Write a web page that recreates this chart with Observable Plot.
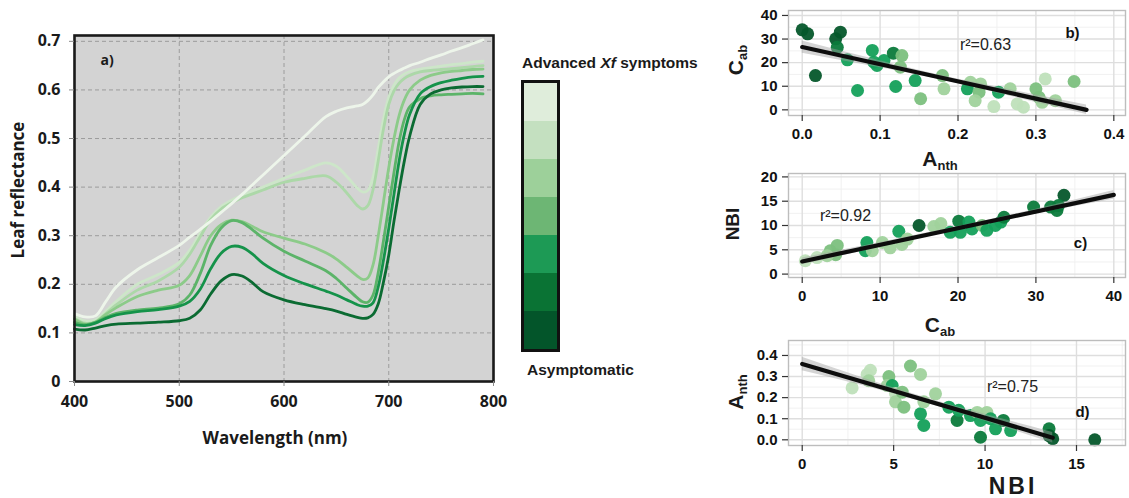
<!DOCTYPE html>
<html>
<head>
<meta charset="utf-8">
<script src="https://cdn.jsdelivr.net/npm/d3@7"></script>
<script src="https://cdn.jsdelivr.net/npm/@observablehq/plot@0.6"></script>
<style>
  body { margin: 0; background: #fff; }
  #fig { position: relative; width: 1129px; height: 498px; overflow: hidden; background: #fff; }
  #fig svg { position: absolute; }
  .t { position: absolute; white-space: nowrap; color: #1a1a1a; line-height: 1; }
  .t sub { font-size: 0.62em; vertical-align: -0.32em; line-height: 0; }
</style>
</head>
<body>
<div id="fig"></div>
<script>
// ---- Panel a: leaf reflectance spectra, one line per symptom level ----
// level 1 = advanced Xf symptoms ... level 7 = asymptomatic
const wavelength = [400,410,420,430,440,460,480,500,510,520,530,540,550,560,570,580,600,620,640,650,660,670,675,680,685,690,695,700,705,710,715,720,730,740,750,760,770,780,790];
const refl1 = [0.140,0.133,0.135,0.165,0.195,0.230,0.255,0.280,0.297,0.313,0.330,0.348,0.366,0.385,0.405,0.425,0.465,0.505,0.545,0.556,0.563,0.567,0.570,0.578,0.590,0.605,0.617,0.627,0.634,0.640,0.645,0.650,0.657,0.665,0.672,0.680,0.687,0.695,0.703];
const refl2 = [0.135,0.125,0.127,0.145,0.165,0.200,0.220,0.245,0.270,0.305,0.338,0.360,0.373,0.383,0.392,0.400,0.418,0.435,0.450,0.443,0.422,0.398,0.390,0.393,0.420,0.480,0.540,0.585,0.610,0.625,0.633,0.638,0.643,0.646,0.649,0.652,0.654,0.657,0.659];
const refl3 = [0.130,0.120,0.123,0.140,0.158,0.188,0.207,0.235,0.262,0.298,0.333,0.355,0.368,0.378,0.386,0.394,0.410,0.418,0.423,0.410,0.388,0.362,0.355,0.362,0.395,0.455,0.520,0.570,0.598,0.614,0.624,0.630,0.637,0.640,0.642,0.644,0.646,0.648,0.650];
const refl4 = [0.128,0.118,0.122,0.138,0.152,0.175,0.188,0.198,0.218,0.258,0.300,0.323,0.332,0.329,0.319,0.308,0.295,0.283,0.265,0.252,0.235,0.217,0.210,0.213,0.240,0.300,0.370,0.440,0.500,0.548,0.580,0.600,0.620,0.630,0.635,0.638,0.640,0.642,0.643];
const refl5 = [0.122,0.117,0.122,0.132,0.140,0.147,0.151,0.160,0.178,0.222,0.280,0.316,0.331,0.327,0.312,0.295,0.268,0.248,0.228,0.212,0.192,0.172,0.164,0.163,0.178,0.225,0.290,0.360,0.430,0.495,0.540,0.565,0.582,0.588,0.590,0.591,0.592,0.593,0.592];
const refl6 = [0.117,0.115,0.120,0.130,0.137,0.144,0.148,0.155,0.165,0.190,0.232,0.264,0.278,0.276,0.262,0.243,0.218,0.201,0.186,0.178,0.168,0.158,0.155,0.155,0.162,0.195,0.250,0.315,0.385,0.455,0.510,0.550,0.592,0.607,0.615,0.620,0.624,0.627,0.628];
const refl7 = [0.108,0.106,0.110,0.115,0.118,0.120,0.122,0.125,0.130,0.147,0.180,0.207,0.220,0.217,0.203,0.185,0.168,0.158,0.150,0.145,0.138,0.132,0.130,0.131,0.138,0.160,0.205,0.260,0.330,0.395,0.455,0.505,0.570,0.592,0.600,0.604,0.606,0.607,0.607];
const levels = [1, 2, 3, 4, 5, 6, 7];
const lineColors = ["#edf5ea", "#cde6c9", "#acd8a8", "#8ccb89", "#5cb469", "#15934a", "#0b6b32"];
const legendColors = ["#dfeddb", "#c4e0c0", "#9dd09a", "#6db674", "#1d9a55", "#0a7334", "#03552a"];
const xTicksA = [400, 500, 600, 700, 800];
const yTicksA = [0, 0.1, 0.2, 0.3, 0.4, 0.5, 0.6, 0.7];

// ---- Panel b: Anth vs Cab ----
const anthB = [0.000,0.007,0.017,0.049,0.043,0.045,0.058,0.071,0.090,0.092,0.096,0.105,0.117,0.120,0.128,0.126,0.145,0.152,0.180,0.182,0.216,0.212,0.229,0.227,0.222,0.246,0.252,0.267,0.276,0.284,0.300,0.304,0.308,0.312,0.325,0.349];
const cabB  = [33.9,32.2,14.5,32.9,30.1,26.5,21.2,8.2,25.2,20.2,18.8,20.9,24.0,9.9,23.0,18.1,12.4,4.7,14.5,8.9,11.7,8.9,11.0,7.5,3.9,1.4,7.5,8.9,2.5,1.1,8.9,5.3,3.2,13.1,3.9,12.0];
const levelB = [7,7,7,7,7,6,5,5,5,5,5,5,6,5,4,4,5,4,4,3,3,5,3,4,3,2,5,3,2,2,4,4,3,2,3,4];
const fitB = {x: [0, 0.365], y: [26.6, 0]};
const bandB = {x: [0, 0.09, 0.18, 0.27, 0.365], lo: [24.0, 18.5, 12.6, 5.5, -2.0], hi: [29.2, 21.6, 14.4, 8.3, 2.0]};
const xTicksB = [0, 0.1, 0.2, 0.3, 0.4], xMinorB = [0.05, 0.15, 0.25, 0.35];
const yTicksB = [0, 10, 20, 30, 40], yMinorB = [5, 15, 25, 35];

// ---- Panel c: Cab vs NBI ----
const cabC = [0.4,1.9,3.6,4.5,4.3,3.2,8.1,8.3,9.0,10.3,11.3,12.8,12.4,13.5,15.0,16.9,17.8,19.0,20.1,20.3,21.4,21.8,23.1,23.7,24.8,25.5,25.9,29.7,31.9,32.7,33.6,32.9];
const nbiC = [2.75,3.4,4.8,5.9,4.0,3.8,4.8,6.5,4.8,6.5,5.4,6.1,8.8,7.2,10.0,9.8,10.4,8.6,10.9,8.6,10.7,9.3,10.0,9.0,10.0,10.7,11.7,13.8,13.8,13.1,16.2,14.1];
const levelC = [2,2,4,4,4,3,5,5,3,3,3,3,5,3,7,3,3,5,6,5,5,5,4,5,5,5,6,6,6,6,7,6];
const fitC = {x: [0, 40], y: [2.6, 16.3]};
const bandC = {x: [0, 10, 20, 30, 40], lo: [1.9, 5.55, 9.1, 12.4, 15.4], hi: [3.3, 6.5, 9.8, 13.35, 17.2]};
const xTicksC = [0, 10, 20, 30, 40], xMinorC = [5, 15, 25, 35];
const yTicksC = [0, 5, 10, 15, 20], yMinorC = [2.5, 7.5, 12.5, 17.5];

// ---- Panel d: NBI vs Anth ----
const nbiD = [2.73,3.55,3.73,3.64,4.74,4.65,4.92,5.1,5.1,5.47,5.56,5.92,6.47,6.47,6.65,6.65,7.29,8.02,8.47,8.56,9.2,9.57,9.75,9.75,10.1,10.3,10.57,11.0,11.4,13.5,13.5,13.7,16.0];
const anthD = [0.246,0.31,0.33,0.28,0.30,0.257,0.257,0.22,0.18,0.226,0.155,0.35,0.31,0.123,0.068,0.18,0.218,0.155,0.092,0.14,0.115,0.13,0.092,0.012,0.13,0.10,0.052,0.092,0.044,0.052,0.02,0.005,0.0];
const levelD = [2,2,2,3,4,3,5,2,3,4,4,4,3,5,5,3,3,5,6,5,5,3,5,6,3,5,5,6,5,6,7,7,7];
const fitD = {x: [0, 13.7], y: [0.36, 0.01]};
const bandD = {x: [0, 3.5, 7, 10.5, 13.7], lo: [0.328, 0.253, 0.169, 0.075, -0.015], hi: [0.392, 0.288, 0.193, 0.109, 0.035]};
const xTicksD = [0, 5, 10, 15], xMinorD = [2.5, 7.5, 12.5, 17.5];
const yTicksD = [0, 0.1, 0.2, 0.3, 0.4], yMinorD = [0.05, 0.15, 0.25, 0.35, 0.45];

const pointColors = ["#e2efdd", "#bfe0bb", "#a0d29c", "#7cc07e", "#14a05a", "#0b7a3b", "#05572b"];

const fig = document.getElementById("fig");
const place = (svg, left, top) => { svg.style.left = left + "px"; svg.style.top = top + "px"; fig.append(svg); };

// HTML titles (allow sub/superscripts)
function label(html, x, y, {size = 16, family = "Open Sans", weight = "bold", rotate = false, anchor = "middle", spacing = 0} = {}) {
  const el = document.createElement("div");
  el.className = "t";
  el.innerHTML = html;
  const tx = anchor === "start" ? "0" : "-50%";
  Object.assign(el.style, {
    left: x + "px", top: y + "px", fontSize: size + "px", fontFamily: family,
    fontWeight: weight, letterSpacing: spacing + "px",
    transform: `translate(${tx},-50%)` + (rotate ? " rotate(-90deg)" : "")
  });
  fig.append(el);
}

// ---- draw panel a ----
const reflByLevel = [refl1, refl2, refl3, refl4, refl5, refl6, refl7];
const drawOrder = [2, 3, 4, 5, 6, 7, 1];
const spectra = drawOrder.flatMap(lv => wavelength.map((w, i) => ({wl: w, r: reflByLevel[lv - 1][i], level: lv})));

const panelA = Plot.plot({
  width: 515, height: 420,
  marginLeft: 74, marginRight: 22, marginTop: 35, marginBottom: 39,
  style: {fontFamily: "Open Sans", fontSize: "16px", fontWeight: "bold", color: "#1a1a1a", background: "none"},
  x: {domain: [400, 800]},
  y: {domain: [0, 0.712]},
  color: {domain: levels, range: lineColors},
  marks: [
    Plot.frame({fill: "#d3d3d3"}),
    Plot.gridX(xTicksA.slice(1, -1), {stroke: "#9c9c9c", strokeOpacity: 1, strokeDasharray: "4,3"}),
    Plot.gridY(yTicksA.slice(1), {stroke: "#9c9c9c", strokeOpacity: 1, strokeDasharray: "4,3"}),
    Plot.line(spectra, {x: "wl", y: "r", z: "level", stroke: "level", strokeWidth: 2.8, curve: "catmull-rom"}),
    Plot.frame({stroke: "#1a1a1a", strokeWidth: 2.6}),
    Plot.axisX(xTicksA, {tickSize: 5, tickPadding: 9, stroke: "#8a8a8a", label: null, fontSize: 16, tickFormat: d => String(d)}),
    Plot.axisY(yTicksA, {tickSize: 5, tickPadding: 9, stroke: "#8a8a8a", label: null, fontSize: 16, tickFormat: d => d === 0 ? "0" : d3.format(".1f")(d)}),
    Plot.text(["a)"], {frameAnchor: "top-left", dx: 26, dy: 20, fontSize: 14})
  ]
});
place(panelA, 0, 0);
label("Leaf reflectance", 17, 190, {size: 17, rotate: true});
label("Wavelength (nm)", 275, 437, {size: 17});

// ---- legend ----
const legend = Plot.plot({
  width: 40, height: 273, marginTop: 2, marginBottom: 2, marginLeft: 2, marginRight: 2,
  style: {background: "none"},
  y: {domain: levels, axis: null, padding: 0},
  color: {domain: levels, range: legendColors},
  marks: [
    Plot.cell(levels, {y: d => d, fill: d => d}),
    Plot.frame({stroke: "#111", strokeWidth: 3})
  ]
});
place(legend, 520, 79);
label("Advanced <i>Xf</i> symptoms", 522, 63, {size: 15.5, family: "Liberation Sans", anchor: "start"});
label("Asymptomatic", 527, 370, {size: 15.5, family: "Liberation Sans", anchor: "start"});

// ---- scatter panels ----
function scatter({xs, ys, lv, fit, band, xDomain, yDomain, xTicks, xMinor, yTicks, yMinor, xFmt, yFmt, height, marginBottom, r2, r2dx, r2dy, tag, tagdx, tagdy}) {
  const pts = xs.map((x, i) => ({x, y: ys[i], level: lv[i]}));
  const fitRows = fit.x.map((x, i) => ({x, y: fit.y[i]}));
  const bandRows = band.x.map((x, i) => ({x, lo: band.lo[i], hi: band.hi[i]}));
  return Plot.plot({
    width: 409, height,
    marginLeft: 68, marginRight: 4, marginTop: 10, marginBottom,
    style: {fontFamily: "Liberation Sans", fontSize: "15px", fontWeight: "bold", color: "#111", background: "none"},
    x: {domain: xDomain},
    y: {domain: yDomain},
    color: {domain: levels, range: pointColors},
    marks: [
      Plot.gridX(xMinor, {stroke: "#efefef", strokeOpacity: 1, strokeWidth: 0.9}),
      Plot.gridY(yMinor, {stroke: "#efefef", strokeOpacity: 1, strokeWidth: 0.9}),
      Plot.gridX(xTicks, {stroke: "#dedede", strokeOpacity: 1, strokeWidth: 1.4}),
      Plot.gridY(yTicks, {stroke: "#dedede", strokeOpacity: 1, strokeWidth: 1.4}),
      Plot.dot(pts, {x: "x", y: "y", fill: "level", r: 6.5, fillOpacity: 0.95}),
      Plot.areaY(bandRows, {x: "x", y1: "lo", y2: "hi", fill: "#a0a0a0", fillOpacity: 0.45, curve: "natural"}),
      Plot.line(fitRows, {x: "x", y: "y", stroke: "#0d0d0d", strokeWidth: 4.2}),
      Plot.frame({stroke: "#bdbdbd", strokeWidth: 1.4}),
      Plot.axisX(xTicks, {tickSize: 6, tickPadding: 7, stroke: "#333", strokeWidth: 1.2, label: null, fontSize: 15, tickFormat: xFmt}),
      Plot.axisY(yTicks, {tickSize: 6, tickPadding: 5, stroke: "#333", strokeWidth: 1.2, label: null, fontSize: 15, tickFormat: yFmt}),
      Plot.text([r2], {frameAnchor: "top-left", dx: r2dx, dy: r2dy, textAnchor: "middle", lineAnchor: "middle", fontSize: 16, fontWeight: "normal", fill: "#222"}),
      Plot.text([tag], {frameAnchor: "top-left", dx: tagdx, dy: tagdy, textAnchor: "middle", lineAnchor: "middle", fontSize: 15})
    ]
  });
}

const f1 = d3.format(".1f"), f0 = d => String(d);

place(scatter({
  xs: anthB, ys: cabB, lv: levelB, fit: fitB, band: bandB,
  xDomain: [-0.0176, 0.415], yDomain: [-2.4, 42.1],
  xTicks: xTicksB, xMinor: xMinorB, yTicks: yTicksB, yMinor: yMinorB, xFmt: f1, yFmt: f0,
  height: 150, marginBottom: 35,
  r2: "r²=0.63", r2dx: 197, r2dy: 34, tag: "b)", tagdx: 284, tagdy: 23
}), 720, 0);

place(scatter({
  xs: cabC, ys: nbiC, lv: levelC, fit: fitC, band: bandC,
  xDomain: [-1.76, 41.5], yDomain: [-0.7, 20.7],
  xTicks: xTicksC, xMinor: xMinorC, yTicks: yTicksC, yMinor: yMinorC, xFmt: f0, yFmt: f0,
  height: 150, marginBottom: 36,
  r2: "r²=0.92", r2dx: 57, r2dy: 42, tag: "c)", tagdx: 292, tagdy: 70
}), 720, 163);

place(scatter({
  xs: nbiD, ys: anthD, lv: levelD, fit: fitD, band: bandD,
  xDomain: [-0.75, 17.68], yDomain: [-0.027, 0.471],
  xTicks: xTicksD, xMinor: xMinorD, yTicks: yTicksD, yMinor: yMinorD, xFmt: f0, yFmt: f1,
  height: 168, marginBottom: 53,
  r2: "r²=0.75", r2dx: 224, r2dy: 46, tag: "d)", tagdx: 294, tagdy: 72
}), 720, 330);

const sf = "Liberation Sans";
label("C<sub>ab</sub>", 735, 60, {size: 21, family: sf, rotate: true});
label("A<sub>nth</sub>", 940, 158, {size: 21, family: sf});
label("NBI", 732, 224, {size: 19, family: sf, rotate: true});
label("C<sub>ab</sub>", 940, 324, {size: 21, family: sf});
label("A<sub>nth</sub>", 735, 392, {size: 21, family: sf, rotate: true});
label("NBI", 1013, 486, {size: 23, family: sf, spacing: 3});
</script>
</body>
</html>
